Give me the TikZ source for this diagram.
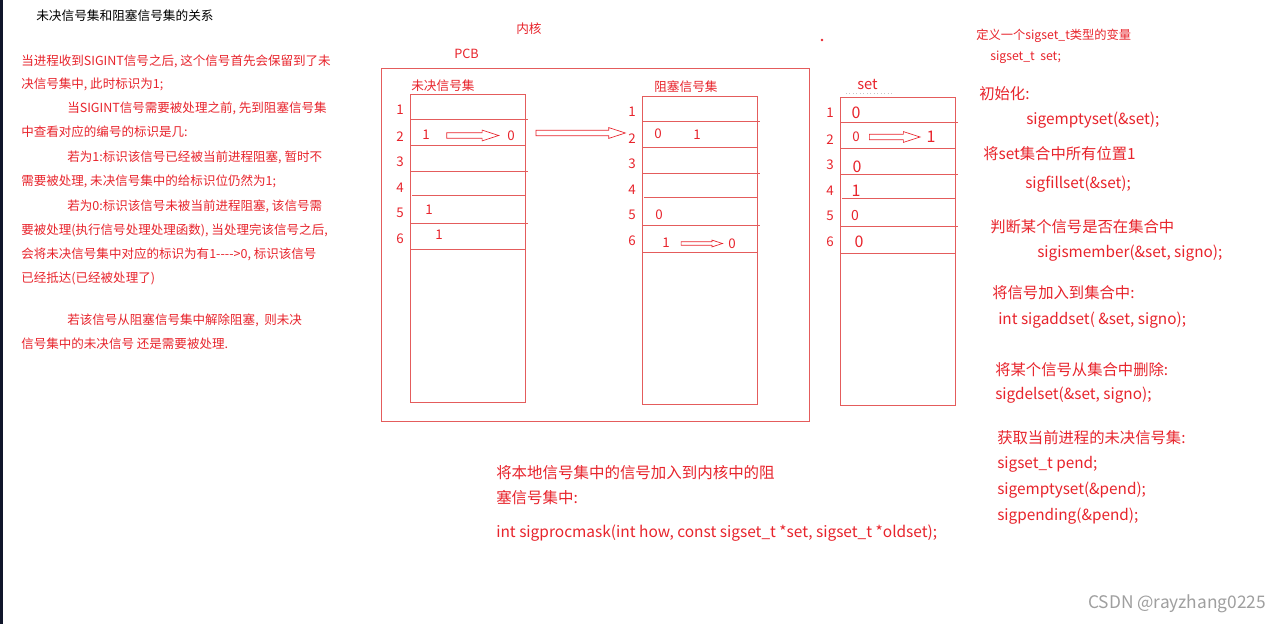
\documentclass[tikz,border=0pt]{standalone}
\usepackage{fontspec}
\setmainfont{Noto Sans CJK SC}
\usetikzlibrary{arrows.meta,positioning,calc,shapes.arrows}

\definecolor{sigred}{RGB}{232,36,44}
\definecolor{boxred}{RGB}{228,92,92}
\definecolor{edgenavy}{RGB}{16,22,42}

\begin{document}
\begin{tikzpicture}[
  x=0.75pt, y=-0.75pt,
  txt/.style={anchor=west, inner sep=0pt, text=sigred, font=\fontsize{9.4}{10}\selectfont},
  code/.style={txt, font=\fontsize{11.5}{13}\selectfont},
  note/.style={txt, font=\fontsize{11.6}{13}\selectfont},
  num/.style={inner sep=0pt, text=sigred, font=\fontsize{10}{11}\selectfont},
  big/.style={num, font=\fontsize{12}{13}\selectfont},
  tbl/.style={draw=boxred, line width=0.75pt},
  hollowarr/.style={single arrow, draw=sigred, line width=0.5pt, inner sep=1.8pt,
    minimum width=8pt, single arrow head extend=2pt, single arrow tip angle=36},
  thinarr/.style={hollowarr, inner sep=1.1pt, minimum width=5pt, single arrow head extend=1.2pt},
]
\useasboundingbox (0,0) rectangle (1282,624);
\fill[white] (0,0) rectangle (1282,624);
\fill[edgenavy] (0,0) rectangle (2.5,624);

% ================= left: explanation =================
\node[txt, text=black, font=\fontsize{9.5}{11}\selectfont] (title) at (36,16) {未决信号集和阻塞信号集的关系};
\node[txt] (l1) at (21,61) {当进程收到SIGINT信号之后, 这个信号首先会保留到了未};
\node[txt] (l2) at (21,84) {决信号集中, 此时标识为1;};
\node[txt] (l3) at (67,108) {当SIGINT信号需要被处理之前, 先到阻塞信号集};
\node[txt] (l4) at (21,132) {中查看对应的编号的标识是几:};
\node[txt] (l5) at (67,157) {若为1:标识该信号已经被当前进程阻塞, 暂时不};
\node[txt] (l6) at (21,181) {需要被处理, 未决信号集中的给标识位仍然为1;};
\node[txt] (l7) at (67,206) {若为0:标识该信号未被当前进程阻塞, 该信号需};
\node[txt] (l8) at (21,230) {要被处理(执行信号处理处理函数), 当处理完该信号之后,};
\node[txt] (l9) at (21,254) {会将未决信号集中对应的标识为有1-{}-{}-{}->0, 标识该信号};
\node[txt] (l10) at (21,278) {已经抵达(已经被处理了)};
\node[txt] (l11) at (67,320) {若该信号从阻塞信号集中解除阻塞, \ 则未决};
\node[txt] (l12) at (21,344) {信号集中的未决信号 还是需要被处理.};

% ================= middle: kernel / PCB =================
\node[txt, font=\fontsize{9.5}{11}\selectfont] (kern) at (516,29) {内核};
\node[txt, font=\fontsize{9.5}{11}\selectfont] (pcb) at (454,54) {PCB};
\draw[tbl] (381,69) rectangle (809,421);
\node[txt, font=\fontsize{9.5}{11}\selectfont] (pendlbl) at (411,86) {未决信号集};
\node[txt, font=\fontsize{9.5}{11}\selectfont] (blocklbl) at (654,87) {阻塞信号集};
\node[txt, font=\fontsize{11}{12}\selectfont] (setlbl) at (857,84) {set};
\draw[gray!45, dotted, line width=0.6pt] (846,93) -- (893,93);
\fill[sigred] (822,40) circle (1pt);

% three tables: pending, blocked, set
\foreach \tx/\ty/\tn in {410/95/p, 642/97/b, 840/98/s} {
  \begin{scope}[shift={(\tx,\ty)}]
    \draw[tbl] (0,0) rectangle (115,307);
    \draw[tbl] (0,25) -- (118,25);
    \draw[tbl] (0,51) -- (115,51);
    \draw[tbl] (0,77) -- (118,77);
    \draw[tbl] (2,101) -- (115,101);
    \draw[tbl] (0,129) -- (118,129);
    \draw[tbl] (0,155) -- (115,155);
    \coordinate (\tn r2) at (115,38);
    \foreach \i/\ry in {1/15, 2/42, 3/67, 4/93, 5/118, 6/144}
      \node[num] (\tn n\i) at (-10,\ry) {\i};
  \end{scope}
}

% pending values
\node[num] (p21) at (426,135) {1};
\node[num] (p22) at (511,136) {0};
\node[num] (p5) at (429,210) {1};
\node[num] (p6) at (439,235) {1};
\path (p21) -- node[hollowarr, minimum height=39pt] {} (p22);

% blocked values
\node[num] (b21) at (658,134) {0};
\node[num] (b22) at (697,135) {1};
\node[num] (b5) at (659,215) {0};
\node[num] (b61) at (666,243) {1};
\node[num] (b62) at (732,244) {0};
\path (b61) -- node[thinarr, minimum height=31pt] {} (b62);

% pending -> blocked
\path (pr2) -- node[hollowarr, minimum height=67pt, pos=0.5] {} (pr2 -| bn2.west);

% set values
\node[big] (s1) at (856,113) {0};
\node[num] (s21) at (856,137) {0};
\node[big] (s22) at (931,137) {1};
\node[big] (s3) at (857,167) {0};
\node[big] (s4) at (856,191) {1};
\node[num, font=\fontsize{10.5}{11}\selectfont] (s5) at (855,216) {0};
\node[big] (s6) at (859,242) {0};
\path (s21) -- node[hollowarr, minimum height=38pt, xshift=-2pt] {} (s22);

% ================= bottom: sigprocmask =================
\node[note] (k1) at (496,473) {将本地信号集中的信号加入到内核中的阻};
\node[note] (k2) at (496,498) {塞信号集中:};
\node[note] (k3) at (496,533) {int sigprocmask(int how, const sigset\_t *set, sigset\_t *oldset);};

% ================= right: sigset_t functions =================
\node[txt, font=\fontsize{9.2}{10}\selectfont] (r1) at (976,36) {定义一个sigset\_t类型的变量};
\node[txt, font=\fontsize{9.2}{10}\selectfont] (r2) at (990,57) {sigset\_t\ \ set;};
\node[code] (r3) at (979,94) {初始化:};
\node[code] (r4) at (1026,120) {sigemptyset(\&set);};
\node[code] (r5) at (983,154) {将set集合中所有位置1};
\node[code] (r6) at (1025,184) {sigfillset(\&set);};
\node[code] (r7) at (990,227) {判断某个信号是否在集合中};
\node[code] (r8) at (1037,253) {sigismember(\&set, signo);};
\node[code] (r9) at (992,293) {将信号加入到集合中:};
\node[code] (r10) at (998,320) {int sigaddset( \&set, signo);};
\node[code] (r11) at (995,370) {将某个信号从集合中删除:};
\node[code] (r12) at (995,395) {sigdelset(\&set, signo);};
\node[code] (r13) at (997,438) {获取当前进程的未决信号集:};
\node[code] (r14) at (997,464) {sigset\_t pend;};
\node[code] (r15) at (997,490) {sigemptyset(\&pend);};
\node[code] (r16) at (997,516) {sigpending(\&pend);};

\node[txt, text=gray!75, font=\fontsize{13}{14}\selectfont] (mark) at (1088,604) {CSDN @rayzhang0225};
\end{tikzpicture}
\end{document}
